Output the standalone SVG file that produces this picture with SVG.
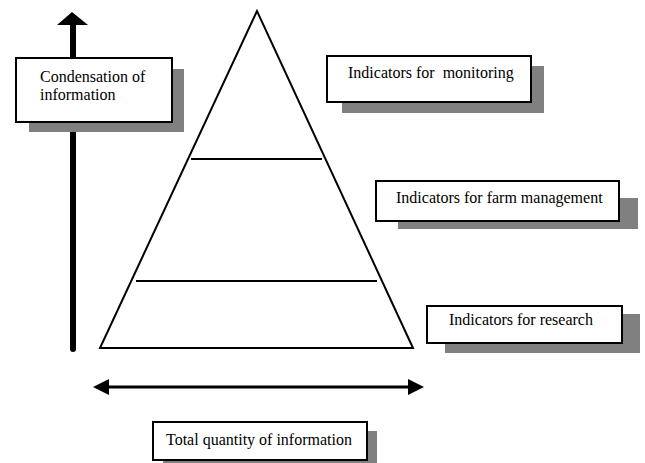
<svg xmlns="http://www.w3.org/2000/svg" width="645" height="463" viewBox="0 0 645 463">
<style>
.box{fill:#fff;stroke:#000;stroke-width:2}
.sh{fill:#808080}
.t{font-family:'Liberation Serif','DejaVu Serif',serif;font-size:16px;fill:#000}
.ln{stroke:#000;stroke-width:2;fill:none}
</style>
<rect width="645" height="463" fill="#fff"/>
<g id="connectors">
<path d="M73,24 L73,349" stroke="#000" stroke-width="6" stroke-linecap="round"/>
<polygon points="72,12 57,25 88,25" fill="#000"/>
<line x1="106" y1="387" x2="410" y2="387" stroke="#000" stroke-width="3"/>
<polygon points="93,387 109,379 109,395" fill="#000"/>
<polygon points="424,387 408,379 408,395" fill="#000"/>
</g>
<g id="pyramid">
<polygon points="257,11 100,348 413,348" class="ln"/>
<line x1="191" y1="159" x2="322" y2="159" class="ln"/>
<line x1="136" y1="281" x2="377" y2="281" class="ln"/>
</g>
<g id="condensation">
<rect class="sh" x="29" y="69" width="155" height="63"/>
<rect class="box" x="16" y="58" width="156" height="64"/>
<text class="t" x="40" y="82" font-family="Liberation Serif, serif">Condensation of</text>
<text class="t" x="40" y="100" font-family="Liberation Serif, serif">information</text>
</g>
<g id="monitoring">
<rect class="sh" x="342" y="66" width="202" height="47"/>
<rect class="box" x="327" y="56" width="204" height="46"/>
<text class="t" x="348" y="78" font-family="Liberation Serif, serif" xml:space="preserve">Indicators for  monitoring</text>
</g>
<g id="farm">
<rect class="sh" x="398" y="198" width="240" height="31"/>
<rect class="box" x="376" y="181" width="243" height="40"/>
<text class="t" x="396" y="203" font-family="Liberation Serif, serif">Indicators for farm management</text>
</g>
<g id="research">
<rect class="sh" x="445" y="314" width="195" height="39"/>
<rect class="box" x="427" y="306" width="195" height="37"/>
<text class="t" x="449" y="325" font-family="Liberation Serif, serif">Indicators for research</text>
</g>
<g id="total">
<rect class="sh" x="163" y="431" width="214" height="32"/>
<rect class="box" x="153" y="422" width="214" height="38"/>
<text class="t" x="166" y="445" font-family="Liberation Serif, serif">Total quantity of information</text>
</g>
</svg>
